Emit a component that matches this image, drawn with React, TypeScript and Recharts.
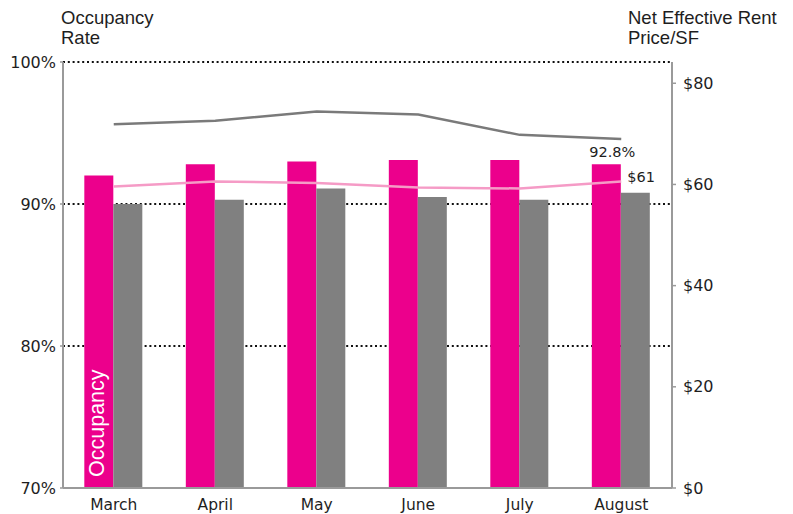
import React from 'react';
import { ComposedChart, Bar, Line, XAxis, YAxis, CartesianGrid, LabelList } from 'recharts';

const months = ['March', 'April', 'May', 'June', 'July', 'August'];
const occupancy = [92.0, 92.8, 93.0, 93.1, 93.1, 92.8];
const marketOccupancy = [90.0, 90.3, 91.1, 90.5, 90.3, 90.8];
const rentMarket = [71.9, 72.6, 74.4, 73.8, 69.8, 69.0];
const rentProperty = [59.6, 60.6, 60.3, 59.4, 59.2, 60.6];
const leftTicks = [70, 80, 90, 100];
const rightTicks = [0, 20, 40, 60, 80];
const boundaryTicks = [0, 1, 2, 3, 4, 5, 6];

const last = months.length - 1;
const data = months.map((m, i) => ({
  month: m,
  occ: occupancy[i],
  mkt: marketOccupancy[i],
  rentA: rentMarket[i],
  rentB: rentProperty[i],
  note: i === 0 ? 'Occupancy' : '',
  occLabel: i === last ? `${occupancy[i].toFixed(1)}%` : '',
  rentLabel: i === last ? `$${Math.round(rentProperty[i])}` : '',
}));

const TICK_FONT = 'DejaVu Sans';
const TITLE_FONT = '"Liberation Sans", Arial, sans-serif';
const AXIS_COLOR = '#9a9a9a';
const TEXT = '#1e1e1e';

const NoteLabel = (props: any) => {
  const { x, y, width, height, value } = props;
  if (!value) return null;
  const cx = Number(x) + Number(width) / 2 - 2;
  const by = Number(y) + Number(height) - 11;
  return (
    <text
      x={cx}
      y={by}
      transform={`rotate(-90 ${cx} ${by})`}
      fill="#ffffff"
      fontSize={21.5}
      fontFamily={TITLE_FONT}
      dominantBaseline="central"
      textAnchor="start"
    >
      {value}
    </text>
  );
};

const OccLabel = (props: any) => {
  const { x, y, width, value } = props;
  if (!value) return null;
  return (
    <text
      x={Number(x) + Number(width) / 2 + 6}
      y={Number(y) - 7}
      fill={TEXT}
      fontSize={14.5}
      fontFamily={TICK_FONT}
      textAnchor="middle"
    >
      {value}
    </text>
  );
};

const RentLabel = (props: any) => {
  const { x, y, value } = props;
  if (!value) return null;
  return (
    <text x={Number(x) + 6} y={Number(y) + 1} fill={TEXT} fontSize={14.5} fontFamily={TICK_FONT} textAnchor="start">
      {value}
    </text>
  );
};

export default function App() {
  const tickStyle = { fill: TEXT, fontSize: 16, fontFamily: TICK_FONT };
  const xTickStyle = { fill: TEXT, fontSize: 15.5, fontFamily: TICK_FONT };
  return (
    <div style={{ position: 'absolute', left: 0, top: 0, width: 793, height: 514, background: '#fff' }}>
      <ComposedChart
        width={793}
        height={514}
        data={data}
        margin={{ top: 62, right: 0, bottom: 0, left: 0 }}
        barCategoryGap="21%"
        barGap={0}
      >
        <CartesianGrid
          yAxisId="left"
          vertical={false}
          stroke="#111"
          strokeWidth={2}
          strokeDasharray="2 2.8"
        />
        <XAxis
          xAxisId="bounds"
          type="number"
          domain={[0, 6]}
          ticks={boundaryTicks}
          allowDataOverflow
          height={0}
          tick={false}
          axisLine={false}
          tickLine={{ stroke: AXIS_COLOR, strokeWidth: 1.5 }}
          tickSize={4}
        />
        <XAxis
          xAxisId="cat"
          dataKey="month"
          height={26}
          axisLine={{ stroke: AXIS_COLOR, strokeWidth: 2 }}
          tickLine={false}
          tickSize={5}
          tickMargin={6}
          tick={xTickStyle}
          interval={0}
        />
        <YAxis
          yAxisId="left"
          width={63}
          domain={[70, 100]}
          ticks={leftTicks}
          allowDataOverflow
          tickFormatter={(v: number) => `${v}%`}
          axisLine={{ stroke: AXIS_COLOR, strokeWidth: 2 }}
          tickLine={{ stroke: AXIS_COLOR, strokeWidth: 1.5 }}
          tickSize={3}
          tickMargin={4}
          tick={tickStyle}
        />
        <YAxis
          yAxisId="right"
          orientation="right"
          width={121}
          domain={[0, 84.2]}
          ticks={rightTicks}
          allowDataOverflow
          tickFormatter={(v: number) => `$${v}`}
          axisLine={{ stroke: AXIS_COLOR, strokeWidth: 2 }}
          tickLine={{ stroke: AXIS_COLOR, strokeWidth: 1.5 }}
          tickSize={4}
          tickMargin={7}
          tick={tickStyle}
        />
        <Bar xAxisId="cat" yAxisId="left" dataKey="occ" fill="#ec008c" isAnimationActive={false}>
          <LabelList dataKey="note" content={NoteLabel} />
          <LabelList dataKey="occLabel" content={OccLabel} />
        </Bar>
        <Bar xAxisId="cat" yAxisId="left" dataKey="mkt" fill="#808080" isAnimationActive={false} />
        <Line
          xAxisId="cat"
          yAxisId="right"
          dataKey="rentA"
          type="linear"
          stroke="#7a7a7a"
          strokeWidth={2.5}
          dot={false}
          isAnimationActive={false}
        />
        <Line
          xAxisId="cat"
          yAxisId="right"
          dataKey="rentB"
          type="linear"
          stroke="#f59bc6"
          strokeWidth={2.5}
          dot={false}
          isAnimationActive={false}
        >
          <LabelList dataKey="rentLabel" content={RentLabel} />
        </Line>
      </ComposedChart>
      <div
        style={{
          position: 'absolute',
          left: 61,
          top: 8,
          fontFamily: TITLE_FONT,
          fontSize: 18.5,
          lineHeight: '20px',
          color: TEXT,
        }}
      >
        Occupancy
        <br />
        Rate
      </div>
      <div
        style={{
          position: 'absolute',
          left: 628,
          top: 8,
          fontFamily: TITLE_FONT,
          fontSize: 18.5,
          lineHeight: '20px',
          color: TEXT,
          whiteSpace: 'nowrap',
        }}
      >
        Net Effective Rent
        <br />
        Price/SF
      </div>
    </div>
  );
}
